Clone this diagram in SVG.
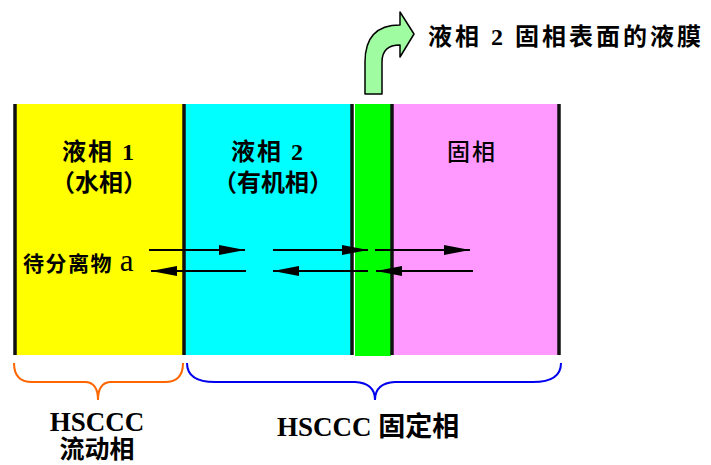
<svg xmlns="http://www.w3.org/2000/svg" width="711" height="465" viewBox="0 0 711 465">
<style>
.t{font-family:"Liberation Serif","Noto Sans CJK SC",serif;fill:#000}
.b{font-weight:bold}
.wall{stroke:#111;stroke-width:3.5}
.cn{stroke:#000;stroke-width:2;fill:none}
.brace{fill:none;stroke-width:2}
</style>
<defs>
<marker id="ah" markerUnits="userSpaceOnUse" markerWidth="26" markerHeight="10" refX="26" refY="5" orient="auto">
<path d="M0,0 L26,5 L0,10 Z" fill="#000"/>
</marker>
</defs>
<rect width="711" height="465" fill="#fff"/>
<g id="phase-water">
<rect x="15" y="104" width="169" height="251" fill="#ffff00"/>
<text class="t b" x="99" y="160" font-size="24" text-anchor="middle" letter-spacing="2">液相 1</text>
<text class="t b" x="99" y="191" font-size="24" text-anchor="middle">（水相）</text>
<text class="t b" x="23" y="271" font-size="21" letter-spacing="1.5">待分离物 <tspan font-size="31" font-weight="normal">a</tspan></text>
</g>
<g id="phase-organic">
<rect x="184" y="104" width="168" height="251" fill="#00ffff"/>
<text class="t b" x="268" y="160" font-size="24" text-anchor="middle" letter-spacing="2">液相 2</text>
<text class="t b" x="273" y="191" font-size="24" text-anchor="middle">（有机相）</text>
</g>
<g id="film">
<rect x="355" y="104" width="36" height="252" fill="#00ff00"/>
</g>
<g id="phase-solid">
<rect x="392" y="104" width="167" height="251" fill="#ff99ff"/>
<text class="t" x="472" y="160" font-size="23" text-anchor="middle" letter-spacing="2" font-weight="500">固相</text>
</g>
<g id="walls">
<line class="wall" x1="15" y1="104" x2="15" y2="355"/>
<line class="wall" x1="184" y1="104" x2="184" y2="355"/>
<line class="wall" x1="352" y1="104" x2="352" y2="355"/>
<line class="wall" x1="392" y1="104" x2="392" y2="355"/>
<line class="wall" x1="559" y1="104" x2="559" y2="355"/>
</g>
<g id="film-label">
<path d="M365,94 L365,62 Q365,25 400,25 L400,12 L414,34 L400,57 L400,45 Q382,45 382,62 L382,94 Z" fill="#a0fca0" stroke="#000" stroke-width="1.5" stroke-linejoin="round"/>
<text class="t b" x="428" y="45" font-size="24" letter-spacing="3">液相 2 固相表面的液膜</text>
</g>
<g id="connectors">
<line class="cn" x1="149" y1="250" x2="245" y2="250" marker-end="url(#ah)"/>
<line class="cn" x1="273" y1="250" x2="368" y2="250" marker-end="url(#ah)"/>
<line class="cn" x1="375" y1="250" x2="470" y2="250" marker-end="url(#ah)"/>
<line class="cn" x1="246" y1="271" x2="151" y2="271" marker-end="url(#ah)"/>
<line class="cn" x1="368" y1="271" x2="273" y2="271" marker-end="url(#ah)"/>
<line class="cn" x1="473" y1="271" x2="376" y2="271" marker-end="url(#ah)"/>
</g>
<g id="mobile-phase">
<path class="brace" stroke="#ff6600" d="M14,363 Q14,382 32,382 L86,382 Q98,383 98,400 Q98,383 110,382 L165,382 Q183,382 183,363"/>
<text class="t b" x="97" y="431" font-size="27" text-anchor="middle">HSCCC</text>
<text class="t b" x="97" y="458" font-size="25" text-anchor="middle">流动相</text>
</g>
<g id="stationary-phase">
<path class="brace" stroke="#0000ee" d="M187,363 Q187,382 215,382 L355,382 Q375,383 375,400 Q375,383 395,382 L533,382 Q561,382 561,363"/>
<text class="t b" x="277" y="436" font-size="27">HSCCC 固定相</text>
</g>
</svg>
